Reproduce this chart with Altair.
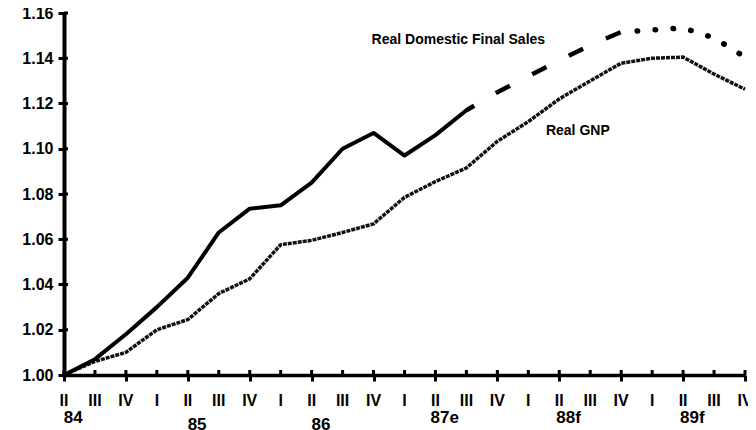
import altair as alt
import pandas as pd

# Quarter tick labels (84 II ... 89 IV)
quarters = ["II", "III", "IV", "I", "II", "III", "IV", "I", "II", "III", "IV",
            "I", "II", "III", "IV", "I", "II", "III", "IV", "I", "II", "III", "IV"]
# Year labels and their position along the quarter index
years = ["84", "85", "86", "87e", "88f", "89f"]
year_pos = [0.3, 4.3, 8.3, 12.3, 16.3, 20.3]
year_row = [0, 1, 1, 0, 0, 0]

# Real Domestic Final Sales (index, 84 II = 1.00)
dfs = [1.000, 1.007, 1.018, 1.030, 1.043, 1.063, 1.0735, 1.075, 1.085, 1.100, 1.107,
       1.097, 1.106, 1.117, 1.125, 1.132, 1.139, 1.1458, 1.1516, 1.1525, 1.1534, 1.149, 1.1405]
# Real GNP
gnp = [1.000, 1.006, 1.010, 1.020, 1.0245, 1.036, 1.0425, 1.0576, 1.0595, 1.063, 1.0668,
       1.0785, 1.0855, 1.0915, 1.1033, 1.112, 1.122, 1.130, 1.1378, 1.140, 1.1405, 1.133, 1.1263]

# segment boundaries for DFS: actual (solid), estimate (dashed), forecast (dotted)
solid_end = 13
dash_end = 18

y_ticks = [1.00, 1.02, 1.04, 1.06, 1.08, 1.10, 1.12, 1.14, 1.16]

idx = list(range(len(quarters)))
df_dfs = pd.DataFrame({"q": idx, "v": dfs})
df_gnp = pd.DataFrame({"q": idx, "v": gnp})
df_years = pd.DataFrame({"q": year_pos, "label": years, "row": year_row})
df_qt = pd.DataFrame({"q": idx, "label": quarters})
df_yt = pd.DataFrame({"v": y_ticks})
df_ann = pd.DataFrame({"q": [12.74, 16.6], "v": [1.148, 1.1077],
                       "label": ["Real Domestic Final Sales", "Real GNP"]})

W, H = 681, 362

x_scale = alt.Scale(domain=[0, 22], nice=False, zero=False)
y_scale = alt.Scale(domain=[1.00, 1.16], nice=False, zero=False)

x_enc = alt.X("q:Q", scale=x_scale, axis=alt.Axis(
    values=idx, labels=False, title=None, grid=False,
    domainColor="black", domainWidth=3.5, tickColor="black", tickWidth=3, tickSize=6))
y_enc = alt.Y("v:Q", scale=y_scale, axis=alt.Axis(
    values=y_ticks, format=".2f", title=None, grid=False,
    domainColor="black", domainWidth=4, tickColor="black", tickWidth=3, tickSize=6,
    labelFont="Liberation Sans", labelFontSize=16, labelFontWeight="bold",
    labelColor="black", labelPadding=5, labelFlush=False, labelOverlap=False))

gnp_line = alt.Chart(df_gnp).mark_line(
    color="#111111", strokeWidth=3.5, strokeDash=[4, 1], strokeJoin="round"
).encode(x=x_enc, y=y_enc)

base_dfs = alt.Chart(df_dfs)

solid = base_dfs.transform_filter(alt.datum.q <= solid_end).mark_line(
    color="black", strokeWidth=4, strokeJoin="round", strokeCap="round"
).encode(x="q:Q", y="v:Q")

dashed = base_dfs.transform_filter(
    (alt.datum.q >= solid_end) & (alt.datum.q <= dash_end)
).mark_line(color="black", strokeWidth=4.5, strokeDash=[16, 25], strokeDashOffset=-34,
            strokeCap="butt").encode(x="q:Q", y="v:Q")

dotted = base_dfs.transform_filter(alt.datum.q >= dash_end).mark_line(
    color="black", strokeWidth=5.5, strokeDash=[0.5, 17.5], strokeDashOffset=-16,
    strokeCap="round").encode(x="q:Q", y="v:Q")

x_inner = alt.Chart(df_qt).mark_rule(color="black", strokeWidth=3).encode(
    x="q:Q", y=alt.value(H - 5), y2=alt.value(H))
y_inner = alt.Chart(df_yt).mark_rule(color="black", strokeWidth=3).encode(
    y="v:Q", x=alt.value(0), x2=alt.value(4))

q_text = alt.Chart(df_qt).mark_text(
    font="Liberation Sans", fontSize=16, fontWeight="bold", color="black",
    baseline="middle", align="center"
).encode(x="q:Q", y=alt.value(H + 26), text="label:N")

year_base = alt.Chart(df_years).mark_text(
    font="Liberation Sans", fontSize=17, fontWeight="bold", color="black",
    baseline="middle", align="center")
year_text0 = year_base.transform_filter(alt.datum.row == 0).encode(
    x="q:Q", y=alt.value(H + 43), text="label:N")
year_text1 = year_base.transform_filter(alt.datum.row == 1).encode(
    x="q:Q", y=alt.value(H + 50), text="label:N")

ann = alt.Chart(df_ann).mark_text(
    font="Liberation Sans", fontSize=14, fontWeight="bold",
    color="black", align="center", baseline="middle"
).encode(x="q:Q", y="v:Q", text="label:N")

chart = alt.layer(gnp_line, solid, dashed, dotted, x_inner, y_inner,
                  q_text, year_text0, year_text1, ann).properties(
    width=W, height=H, autosize="none",
    padding={"left": 56, "top": 5, "right": 3, "bottom": 56},
    background="white"
).configure_view(stroke=None)

chart.save("out.html", embed_options={"renderer": "svg", "actions": False})
